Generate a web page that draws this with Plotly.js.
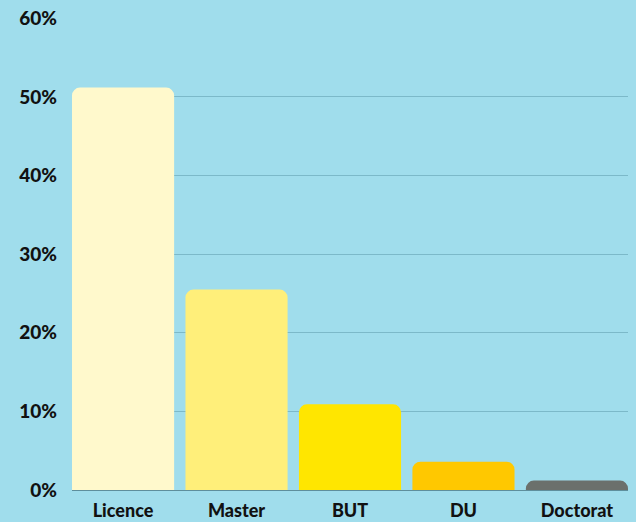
<!DOCTYPE html>
<html><head><meta charset="utf-8">
<script src="https://cdn.plot.ly/plotly-3.0.1.min.js"></script>
<style>html,body{margin:0;padding:0;background:#a0ddec;}</style>
</head><body>
<div id="chart" style="width:636px;height:522px;"></div>
<script>
const categories = ["Licence", "Master", "BUT", "DU", "Doctorat"];
const values = [51.2, 25.5, 10.9, 3.6, 1.2];
const colors = ["#fff9cc", "#ffef7a", "#ffe600", "#ffc800", "#6b706c"];
const yTicks = [0, 10, 20, 30, 40, 50, 60];
const yTickLabels = ["0%", "10%", "20%", "30%", "40%", "50%", "60%"];

Plotly.newPlot("chart", [{
  type: "bar",
  x: categories,
  y: values,
  marker: {color: colors, cornerradius: 8, line: {width: 0}},
  hoverinfo: "none"
}], {
  width: 636, height: 522,
  margin: {l: 72, r: 8, t: 18, b: 32},
  paper_bgcolor: "#a0ddec",
  plot_bgcolor: "#a0ddec",
  bargap: 0.1,
  showlegend: false,
  font: {family: "Lato, 'Open Sans', sans-serif", color: "#000"},
  xaxis: {
    range: [-0.45, 4.45],
    showgrid: false, zeroline: false, showline: false,
    ticks: "",
    ticklabelstandoff: 8,
    tickfont: {size: 18, family: "Lato", weight: 900, color: "#111"},
    fixedrange: true
  },
  yaxis: {
    range: [0, 60.05],
    tickmode: "array",
    tickvals: yTicks,
    ticktext: yTickLabels,
    showgrid: true, gridcolor: "#7cb9c9", gridwidth: 1,
    zeroline: true, zerolinecolor: "#5e8e9c", zerolinewidth: 1,
    showline: false, ticks: "",
    ticklabelstandoff: 14,
    tickfont: {size: 19, family: "Lato", weight: 900, color: "#111"},
    fixedrange: true
  }
}, {displayModeBar: false, staticPlot: true});
</script>
</body></html>
